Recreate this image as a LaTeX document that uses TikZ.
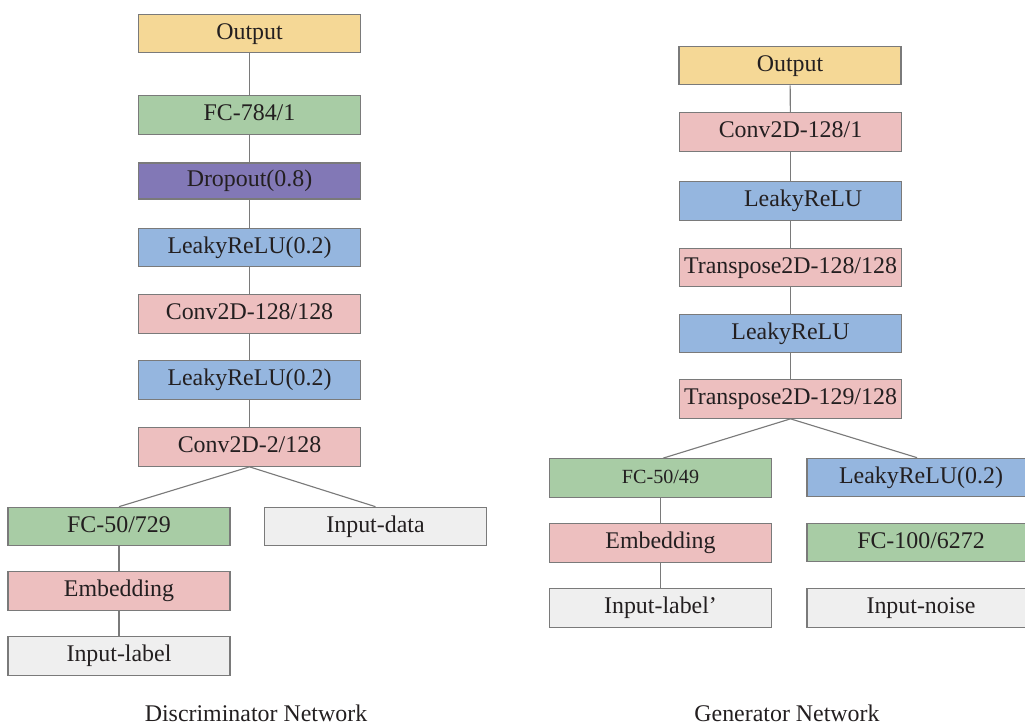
\documentclass[tikz,border=0pt]{standalone}
\usepackage{fontspec}
\setmainfont{Liberation Serif}
\definecolor{outyellow}{HTML}{F5D896}
\definecolor{fcgreen}{HTML}{A8CCA5}
\definecolor{dropviolet}{HTML}{8278B6}
\definecolor{relublue}{HTML}{95B6DF}
\definecolor{convpink}{HTML}{EDBFBF}
\definecolor{inputgray}{HTML}{EFEFEF}
\definecolor{edgegray}{HTML}{7A7A7A}
\definecolor{txt}{HTML}{231F20}

\begin{document}
\begin{tikzpicture}[x=0.025cm, y=-0.025cm,
    layer/.style={draw=edgegray, line width=0.9pt, minimum width=5.55cm, minimum height=0.96cm,
                  inner sep=0pt, text height=11.5pt, text depth=3.5pt,
                  text=txt, font=\fontsize{17}{20}\selectfont},
    link/.style={edgegray, line width=0.8pt},
    caption/.style={text=txt, font=\fontsize{17}{20}\selectfont}]

    \useasboundingbox (0,0) rectangle (1025,725);

    % discriminator
    \node[layer, fill=outyellow]   (dout)   at (249.5,33.5) {Output};
    \node[layer, fill=fcgreen]     (dfc)    at (249.5,115)  {FC-784/1};
    \node[layer, fill=dropviolet, minimum height=0.9cm] (ddrop) at (249.5,181) {Dropout(0.8)};
    \node[layer, fill=relublue]    (dreluA) at (249.5,247.5) {LeakyReLU(0.2)};
    \node[layer, fill=convpink]    (dconvA) at (249.5,314)  {Conv2D-128/128};
    \node[layer, fill=relublue]    (dreluB) at (249.5,380)  {LeakyReLU(0.2)};
    \node[layer, fill=convpink]    (dconvB) at (249.5,447)  {Conv2D-2/128};
    \node[layer, fill=fcgreen]     (dfcl)   at (119,526.5)  {FC-50/729};
    \node[layer, fill=inputgray]   (ddata)  at (375.5,526.5) {Input-data};
    \node[layer, fill=convpink]    (demb)   at (119,591)    {Embedding};
    \node[layer, fill=inputgray]   (dlabel) at (119,656)    {Input-label};
    \node[caption] (dname) at (256,713) {Discriminator Network};

    \draw[link] (dout) -- (dfc);
    \draw[link] (dfc) -- (ddrop);
    \draw[link] (ddrop) -- (dreluA);
    \draw[link] (dreluA) -- (dconvA);
    \draw[link] (dconvA) -- (dreluB);
    \draw[link] (dreluB) -- (dconvB);
    \draw[link] (dconvB.south) -- (dfcl.north);
    \draw[link] (dconvB.south) -- (ddata.north);
    \draw[link] (dfcl) -- (demb);
    \draw[link] (demb) -- (dlabel);

    % generator
    \node[layer, fill=outyellow]   (gout)   at (790,65.5)  {Output};
    \node[layer, fill=convpink]    (gconv)  at (790.5,132) {Conv2D-128/1};
    \node[layer, fill=relublue]    (greluA) at (790.5,201) {\hspace{18pt}LeakyReLU};
    \node[layer, fill=convpink]    (gtrA)   at (790.5,267.5) {Transpose2D-128/128};
    \node[layer, fill=relublue]    (greluB) at (790.5,333.5) {LeakyReLU};
    \node[layer, fill=convpink]    (gtrB)   at (790.5,399)  {Transpose2D-129/128};
    \node[layer, fill=fcgreen, font=\fontsize{14.3}{17}\selectfont] (gfcl) at (660.5,478) {FC-50/49};
    \node[layer, fill=relublue, minimum width=5.7cm] (greluC) at (921,477.5) {LeakyReLU(0.2)};
    \node[layer, fill=convpink]    (gemb)   at (660.5,543)  {Embedding};
    \node[layer, fill=fcgreen, minimum width=5.7cm]  (gfcn)   at (921,542.5) {FC-100/6272};
    \node[layer, fill=inputgray]   (glabel) at (660.5,608)  {Input-label'};
    \node[layer, fill=inputgray, minimum width=5.7cm] (gnoise) at (921,608) {Input-noise};
    \node[caption] (gname) at (787,713) {Generator Network};

    \draw[link] (gout) -- (gconv);
    \draw[link] (gconv) -- (greluA);
    \draw[link] (greluA) -- (gtrA);
    \draw[link] (gtrA) -- (greluB);
    \draw[link] (greluB) -- (gtrB);
    \draw[link] (gtrB.south) -- ([xshift=1.8pt]gfcl.north);
    \draw[link] (gtrB.south) -- ([xshift=-2.8pt]greluC.north);
    \draw[link] (gfcl) -- (gemb);
    \draw[link] (gemb) -- (glabel);

\end{tikzpicture}
\end{document}
